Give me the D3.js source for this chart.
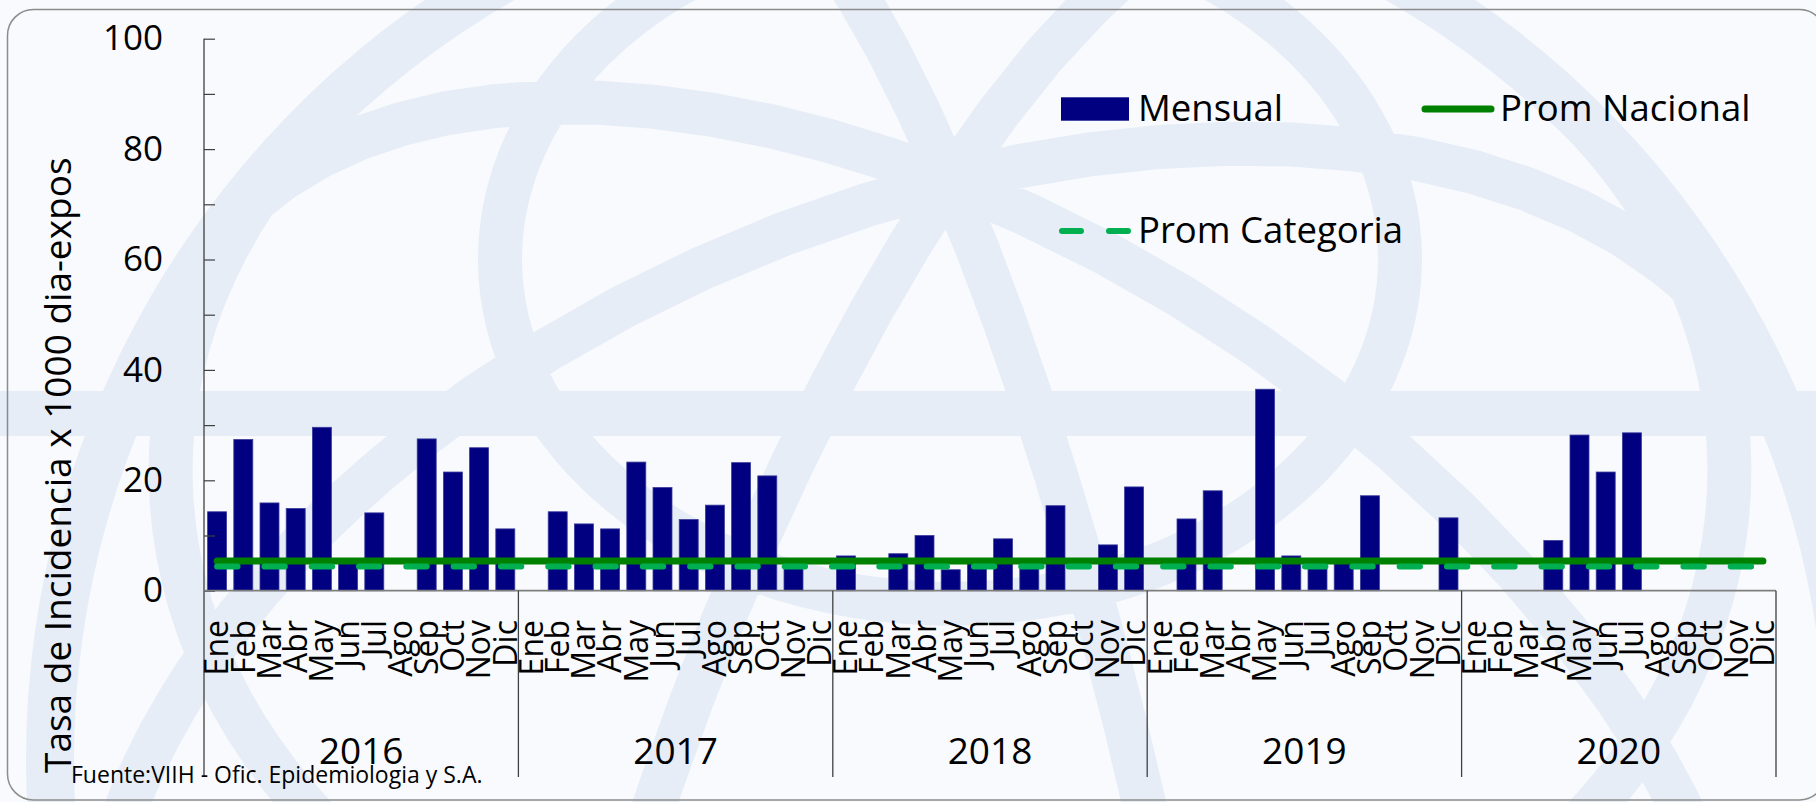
<!DOCTYPE html>
<html>
<head>
<meta charset="utf-8">
<script src="https://cdn.jsdelivr.net/npm/d3@7"></script>
<style>
  body { margin: 0; background: #f7f9fc; }
  svg { display: block; }
  text { font-family: "Open Sans", sans-serif; fill: #000; }
</style>
</head>
<body>
<svg id="chart" width="1816" height="802"></svg>
<script>
// data (tasa x 1000 dia-expos)
const years = ["2016", "2017", "2018", "2019", "2020"];
const months = ["Ene", "Feb", "Mar", "Abr", "May", "Jun", "Jul", "Ago", "Sep", "Oct", "Nov", "Dic"];
const mensual2016 = [14.3, 27.4, 15.9, 14.9, 29.6, 5.2, 14.1, 0, 27.5, 21.5, 25.9, 11.2];
const mensual2017 = [0, 14.3, 12.1, 11.2, 23.3, 18.7, 12.9, 15.5, 23.2, 20.8, 5.0, 0];
const mensual2018 = [6.3, 0, 6.7, 10.0, 3.8, 5.2, 9.4, 5.0, 15.4, 0, 8.3, 18.8];
const mensual2019 = [0, 13.0, 18.1, 0, 36.5, 6.3, 5.0, 5.0, 17.2, 0, 0, 13.2];
const mensual2020 = [0, 0, 0, 9.1, 28.2, 21.5, 28.6, 0, 0, 0, 0, 0];
const promNacional = 5.4;
const promCategoria = 4.4;
const yTickValues = [0, 10, 20, 30, 40, 50, 60, 70, 80, 90, 100];
const yLabelValues = [0, 20, 40, 60, 80, 100];

const mensual = [mensual2016, mensual2017, mensual2018, mensual2019, mensual2020];
const rows = years.flatMap((yr, i) =>
  months.map((m, j) => ({ key: yr + "-" + m, year: yr, month: m, value: mensual[i][j] })));

const svg = d3.select("#chart");
const W = 1816, H = 802;
const plot = { left: 204, right: 1776, top: 38.7, bottom: 590.7, axisBottom: 777 };

// faint globe watermark behind everything
const wm = svg.append("g").attr("class", "watermark");
wm.append("rect").attr("width", W).attr("height", H).attr("fill", "#f8fafd");
const globe = d3.geoOrthographic()
  .scale(900).translate([950, 760]).rotate([18, -50, 0]);
const gpath = d3.geoPath(globe);
wm.append("rect").attr("x", 0).attr("y", 391).attr("width", W).attr("height", 45)
  .attr("fill", "#e6edf7");
wm.append("path").datum(d3.geoGraticule().step([45, 30]).extentMinor([[-180, -60], [180, 60]])())
  .attr("d", gpath).attr("fill", "none")
  .attr("stroke", "#e6edf7").attr("stroke-width", 44);
wm.append("path").datum({ type: "Sphere" })
  .attr("d", gpath).attr("fill", "none")
  .attr("stroke", "#e6edf7").attr("stroke-width", 48);

// chart frame
svg.append("rect")
  .attr("x", 7.5).attr("y", 9.5).attr("width", 1818).attr("height", 790.5)
  .attr("rx", 26).attr("fill", "none")
  .attr("stroke", "#8c8c8c").attr("stroke-width", 1.5);

// scales
const x = d3.scaleBand().domain(rows.map(d => d.key))
  .range([plot.left, plot.right]).paddingInner(0.275).paddingOuter(0.1375);
const xYear = d3.scaleBand().domain(years).range([plot.left, plot.right]);
const y = d3.scaleLinear().domain([0, 100]).range([plot.bottom, plot.top]);

// bars
svg.append("g").selectAll("rect")
  .data(rows.filter(d => d.value > 0))
  .join("rect")
  .attr("x", d => x(d.key))
  .attr("y", d => y(d.value))
  .attr("width", x.bandwidth())
  .attr("height", d => y(0) - y(d.value))
  .attr("fill", "#000080")
  .attr("stroke", "#3c3c9c").attr("stroke-width", 0.8);

// y axis: ticks every 10 inside the plot, labels every 20
const yAxis = svg.append("g")
  .attr("transform", `translate(${plot.left},0)`)
  .call(d3.axisLeft(y)
    .tickValues(yTickValues)
    .tickSize(-11).tickSizeOuter(0).tickPadding(41)
    .tickFormat(d => yLabelValues.includes(d) ? d : ""));
yAxis.select(".domain").remove();
yAxis.selectAll(".tick line").attr("stroke", "#404040").attr("stroke-width", 1.2);
yAxis.selectAll(".tick text").attr("font-size", 35).attr("font-family", "Open Sans, sans-serif");

// axis lines
svg.append("line")
  .attr("x1", plot.left).attr("x2", plot.left)
  .attr("y1", plot.top).attr("y2", plot.axisBottom)
  .attr("stroke", "#404040").attr("stroke-width", 1.3);
svg.append("line")
  .attr("x1", plot.left).attr("x2", plot.right)
  .attr("y1", y(0)).attr("y2", y(0))
  .attr("stroke", "#7f7f7f").attr("stroke-width", 1.8);
svg.append("g").selectAll("line")
  .data(years.slice(1).map(yr => xYear(yr)).concat([plot.right]))
  .join("line")
  .attr("x1", d => d).attr("x2", d => d)
  .attr("y1", y(0)).attr("y2", plot.axisBottom)
  .attr("stroke", "#404040").attr("stroke-width", 1.3);

// month labels
svg.append("g").selectAll("text")
  .data(rows)
  .join("text")
  .attr("transform", d => `translate(${x(d.key) + x.bandwidth() / 2},620) rotate(-90)`)
  .attr("dy", "0.35em")
  .attr("text-anchor", "end")
  .attr("font-size", 32)
  .text(d => d.month);

// year labels
svg.append("g").selectAll("text")
  .data(years)
  .join("text")
  .attr("x", d => xYear(d) + xYear.bandwidth() / 2)
  .attr("y", 764)
  .attr("text-anchor", "middle")
  .attr("font-size", 37)
  .text(d => d);

// average lines
const first = rows[0].key, last = rows[rows.length - 1].key;
const avgLine = v => d3.line()([[x(first) + x.bandwidth() / 2, y(v)], [x(last) + x.bandwidth() / 2, y(v)]]);
svg.append("path")
  .attr("d", avgLine(promNacional))
  .attr("stroke", "#008000").attr("stroke-width", 7)
  .attr("stroke-linecap", "round").attr("fill", "none");
svg.append("path")
  .attr("d", avgLine(promCategoria))
  .attr("stroke", "#00b050").attr("stroke-width", 6)
  .attr("stroke-linecap", "round").attr("stroke-dasharray", "20.4 26.9")
  .attr("fill", "none");

// legend
const legend = svg.append("g").attr("font-size", 36.5);
legend.append("rect").attr("x", 1061).attr("y", 97.3).attr("width", 68).attr("height", 23.4)
  .attr("fill", "#000080");
legend.append("text").attr("x", 1138).attr("y", 121).text("Mensual");
legend.append("line").attr("x1", 1425).attr("x2", 1491).attr("y1", 109).attr("y2", 109)
  .attr("stroke", "#008000").attr("stroke-width", 7).attr("stroke-linecap", "round");
legend.append("text").attr("x", 1500).attr("y", 121).text("Prom Nacional");
legend.append("line").attr("x1", 1062).attr("x2", 1128).attr("y1", 231).attr("y2", 231)
  .attr("stroke", "#00b050").attr("stroke-width", 6).attr("stroke-linecap", "round")
  .attr("stroke-dasharray", "19 28");
legend.append("text").attr("x", 1138).attr("y", 243).text("Prom Categoria");

// axis title and source
svg.append("text")
  .attr("transform", "translate(71,773) rotate(-90)")
  .attr("font-size", 37)
  .text("Tasa de Incidencia x 1000 dia-expos");
svg.append("text")
  .attr("x", 71).attr("y", 783)
  .attr("font-size", 23)
  .text("Fuente:VIIH - Ofic. Epidemiologia y S.A.");
</script>
</body>
</html>
